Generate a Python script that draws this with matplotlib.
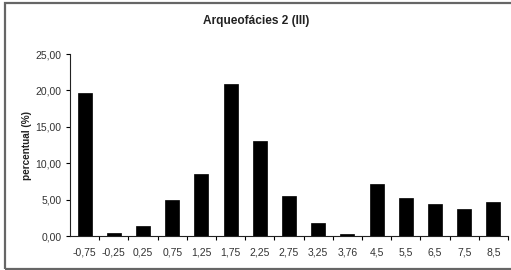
import matplotlib
matplotlib.use("Agg")
import matplotlib.pyplot as plt
from matplotlib.patches import Rectangle

plt.rcParams['font.family'] = ['Liberation Sans', 'DejaVu Sans']

# phi classes and percentages
classes = ['-0,75', '-0,25', '0,25', '0,75', '1,25', '1,75', '2,25', '2,75',
           '3,25', '3,76', '4,5', '5,5', '6,5', '7,5', '8,5']
percent = [19.6, 0.37, 1.35, 4.95, 8.5, 20.9, 13.0, 5.5,
           1.83, 0.22, 7.15, 5.18, 4.35, 3.67, 4.68]
yticks = [0, 5, 10, 15, 20, 25]
ytick_labels = ['0,00', '5,00', '10,00', '15,00', '20,00', '25,00']

fig = plt.figure(figsize=(5.11, 2.70), dpi=100)
ax = fig.add_axes([70 / 511, 34 / 270, 438 / 511, 182 / 270])

x = range(len(classes))
ax.bar(x, percent, width=0.48, color='black', edgecolor='black', linewidth=0.5)

ax.set_xlim(-0.5, len(classes) - 0.5)
ax.set_ylim(0, 25)
ax.set_yticks(yticks)
ax.set_yticklabels(ytick_labels, fontsize=7.5, color='#333333')
ax.set_xticks(list(x))
ax.set_xticklabels(classes, fontsize=7.5, color='#333333')
# category-boundary tick marks like the original spreadsheet chart
ax.set_xticks([i + 0.5 for i in x], minor=True)
ax.tick_params(axis='x', which='major', length=0, pad=8)
ax.tick_params(axis='x', which='minor', length=3, width=0.8, direction='out')
ax.tick_params(axis='y', length=3, width=0.8, direction='out', pad=3)

for side in ['top', 'right']:
    ax.spines[side].set_visible(False)
for side in ['left', 'bottom']:
    ax.spines[side].set_linewidth(0.8)
    ax.spines[side].set_color('#222222')

ax.set_ylabel('percentual (%)', fontsize=7.2, fontweight='bold', labelpad=3,
              color='#222222')
fig.text(256 / 511, 1 - 21 / 270, 'Arqueofácies 2 (III)', ha='center', va='center',
         fontsize=8.6, fontweight='bold', color='#222222')

# grey outer frame
fig.patches.append(Rectangle((5 / 511, 1 / 270), 1.1, 266 / 270,
                             transform=fig.transFigure, fill=False,
                             edgecolor='#666666', linewidth=1.6))

fig.savefig('out.png', dpi=100)
